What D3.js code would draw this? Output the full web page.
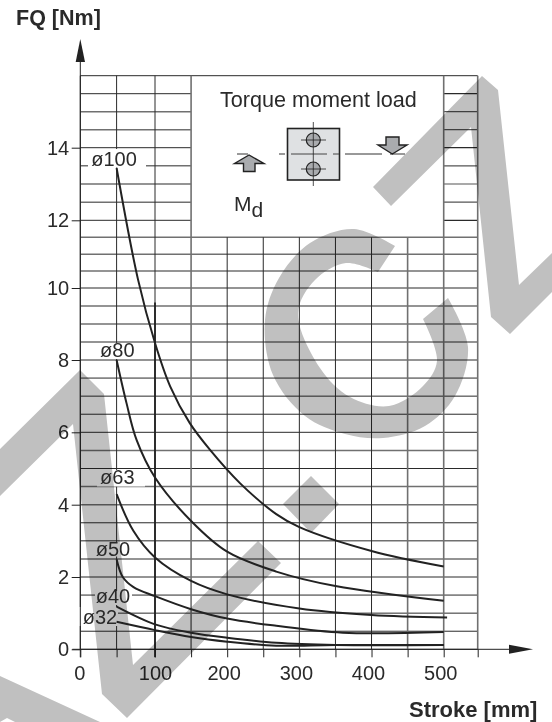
<!DOCTYPE html>
<html>
<head>
<meta charset="utf-8">
<script src="https://cdn.jsdelivr.net/npm/d3@7"></script>
<style>
  html, body { margin: 0; padding: 0; background: #fff; }
  svg { display: block; }
  text { font-family: "Liberation Sans", Arial, sans-serif; fill: #2a2a2a; }
</style>
</head>
<body>
<script>
// values
const xGrid = [0, 50, 100, 150, 200, 250, 300, 350, 400, 450, 500, 550];
const xLabels = [0, 100, 200, 300, 400, 500];
const yLabels = [0, 2, 4, 6, 8, 10, 12, 14];
const yGrid = d3.range(0, 16.5, 0.5);

const names = ["ø100", "ø80", "ø63", "ø50", "ø40", "ø32"];

const d100 = [[50,13.44],[78,10.24],[100,8.47],[121,7.27],[148,6.26],[176,5.52],[218,4.59],[268,3.74],[300,3.38],[400,2.72],[500,2.29]];
const d80 = [[50,8],[63,6.8],[76,5.79],[100,4.75],[150,3.55],[200,2.7],[268,2.15],[350,1.75],[500,1.34]];
const d63 = [[50,4.29],[72,3.27],[100,2.54],[150,1.89],[200,1.52],[300,1.13],[400,0.95],[505,0.88]];
const d50 = [[50,2.49],[58,2],[72,1.72],[100,1.47],[150,1.11],[200,0.85],[268,0.65],[360,0.46],[500,0.48]];
const d40 = [[50,1.18],[100,0.69],[150,0.46],[200,0.32],[268,0.18],[350,0.12],[500,0.12]];
const d32 = [[50,0.76],[100,0.53],[150,0.34],[200,0.21],[268,0.1],[350,0.12],[500,0.12]];
const curves = [d100, d80, d63, d50, d40, d32];

var w = 552;
var h = 722;

// the scan is not quite even, so both scales are calibrated on a few grid lines
var x = d3.scaleLinear().domain([0, 50, 100, 500, 550]).range([80.3, 116.6, 155, 443.7, 477.7]);
var y = d3.scaleLinear()
  .domain([0, 2, 4, 6, 8, 10, 12, 14, 16])
  .range([649.3, 577, 504.7, 432.3, 360, 288, 220.3, 147.7, 75.7]);

var svg = d3.select("body").append("svg").attr("width", w).attr("height", h);

//grid
var grid = svg.append("g");
var darkY = [16, 15.5, 14, 12, 8, 7.5, 7, 6.5, 6, 5, 3.5, 2, 1.5, 1, 0.5, 0];
var greyX = [150, 450, 500, 550];

grid.selectAll(".h").data(yGrid).enter().append("line")
  .attr("x1", x(0)).attr("x2", x(550))
  .attr("y1", function (d) { return y(d); })
  .attr("y2", function (d) { return y(d); })
  .attr("stroke", function (d) { return darkY.includes(d) ? "#2a2a2a" : "#707070"; })
  .attr("stroke-width", function (d) { return darkY.includes(d) ? 1 : 1.5; })
  .each(function (d) {
    // lines above 12 stop at the inset box, and carry on right of it
    if (d >= 12 && d < 16) {
      d3.select(this).attr("x2", x(150));
      grid.append("line")
        .attr("x1", x(500)).attr("x2", x(550))
        .attr("y1", y(d)).attr("y2", y(d))
        .attr("stroke", darkY.includes(d) ? "#2a2a2a" : "#555")
        .attr("stroke-width", 1.2);
    }
  });

grid.selectAll(".v").data(xGrid).enter().append("line")
  .attr("x1", function (d) { return x(d); })
  .attr("x2", function (d) { return x(d); })
  .attr("y1", function (d) { return d >= 200 && d <= 450 ? y(11.5) : y(16); })
  .attr("y2", y(0))
  .attr("stroke", function (d) { return greyX.includes(d) ? "#707070" : "#2a2a2a"; })
  .attr("stroke-width", function (d) { return greyX.includes(d) ? 1.6 : 1; });

// heavier part of the 100 line
grid.append("line")
  .attr("x1", x(100)).attr("x2", x(100))
  .attr("y1", y(9.6)).attr("y2", y(0) + 8)
  .attr("stroke", "#222").attr("stroke-width", 1.8);

//white gaps behind the size labels
var gaps = [[88, 149, 58, 18.5], [98, 343, 38, 16], [97, 470, 48, 16.5], [95, 543, 37, 13.5], [95, 591, 37, 14], [79, 607, 39, 19]];
svg.selectAll(".gap").data(gaps).enter().append("rect")
  .attr("x", function (d) { return d[0]; })
  .attr("y", function (d) { return d[1]; })
  .attr("width", function (d) { return d[2]; })
  .attr("height", function (d) { return d[3]; })
  .attr("fill", "#fff");

//axes
var xAxis = d3.axisBottom(x)
  .tickValues(xGrid)
  .tickSizeOuter(0)
  .tickSize(8)
  .tickPadding(8.5)
  .tickFormat(function (d) { return xLabels.includes(d) ? d : ""; });

var yAxis = d3.axisLeft(y)
  .tickValues(yLabels)
  .tickSizeOuter(0)
  .tickSize(8.6)
  .tickPadding(2.5);

var gx = svg.append("g").attr("transform", "translate(0," + y(0) + ")").call(xAxis);
var gy = svg.append("g").attr("transform", "translate(" + x(0) + ",0)").call(yAxis);

[gx, gy].forEach(function (g) {
  g.select(".domain").remove();
  g.selectAll("line").attr("stroke", "#222");
  g.selectAll("text").attr("font-size", 20).attr("font-family", null).style("fill", "#2a2a2a");
});
gx.selectAll("text").attr("dx", function (d) { return d === 100 ? 0 : d === 0 ? -1 : -3.5; });

svg.append("line").attr("x1", x(0)).attr("x2", x(0)).attr("y1", 60).attr("y2", y(0) + 8)
  .attr("stroke", "#222");
svg.append("line").attr("x1", x(0) - 8).attr("x2", 512).attr("y1", y(0)).attr("y2", y(0))
  .attr("stroke", "#222");
svg.append("path").attr("d", "M80.3,39 L85,62 L75.7,62 Z").attr("fill", "#222");
svg.append("path").attr("d", "M533,649.3 L509,644.8 L509,653.8 Z").attr("fill", "#222");

//watermark sits over the grid and only darkens it
var mark = svg.append("g").attr("fill", "#c0c0c0").style("mix-blend-mode", "multiply");
var polys = [
  "M373,187 L482,76 L498,90 L519,285 L552,253 L552,292 L510,334 L491,317 L471,127 L391,206 Z",
  "M0,449 L80,370 L104,394 L133,665 L258,541 L281,563 L127,718 L102,694 L73,424 L0,496 Z",
  "M311,476 L339,504 L311,533 L283,504 Z",
  "M0,676 L100,722 L15,722 L7,718 L0,722 Z"
];
mark.selectAll("path").data(polys).enter().append("path").attr("d", function (d) { return d; });

var cOuter = [[395,246],[354,229],[310,243],[279,278],[265,320],[273,375],[305,416],[345,434],[383,438],[425,426],[455,396],[468,347],[448,298]];
var cInner = [[423,319],[437,361],[423,386],[389,406],[350,397],[320,368],[298,313],[315,280],[346,263],[378,272]];
var cLine = d3.line().curve(d3.curveCatmullRom);
mark.append("path").attr("d", cLine(cOuter) + "L" + cLine(cInner).slice(1) + "Z");

//curves
var line = d3.line()
  .x(function (d) { return x(d[0]); })
  .y(function (d) { return y(d[1]); })
  .curve(d3.curveCatmullRom.alpha(0.5));

svg.selectAll(".curve").data(curves).enter().append("path")
  .attr("d", line)
  .attr("fill", "none")
  .attr("stroke", "#222")
  .attr("stroke-width", 2);

//size labels
var spots = [[114, 165.7], [117.3, 356.7], [117.3, 484.3], [113, 556], [113, 603.3], [100, 624.3]];
svg.selectAll(".size").data(names).enter().append("text")
  .attr("x", function (d, i) { return spots[i][0]; })
  .attr("y", function (d, i) { return spots[i][1]; })
  .attr("text-anchor", "middle")
  .attr("font-size", 20)
  .text(function (d) { return d; });

//axis titles
svg.append("text").attr("x", 16).attr("y", 25).attr("font-size", 21.5).attr("font-weight", "bold").text("FQ [Nm]");
svg.append("text").attr("x", 409).attr("y", 717).attr("font-size", 22).attr("font-weight", "bold").text("Stroke [mm]");

//inset
var inset = svg.append("g");
inset.append("text").attr("x", 220).attr("y", 107.3).attr("font-size", 21.6).text("Torque moment load");

var md = inset.append("text").attr("x", 234).attr("y", 210.7).attr("font-size", 21);
md.append("tspan").text("M");
md.append("tspan").attr("dy", 6).attr("font-size", 21).text("d");

[[237, 248], [279, 285], [345, 382], [390, 405]].forEach(function (s) {
  inset.append("line").attr("x1", s[0]).attr("x2", s[1]).attr("y1", 154).attr("y2", 154)
    .attr("stroke", "#333").attr("stroke-width", 1);
});

inset.append("rect").attr("x", 287.5).attr("y", 128.5).attr("width", 52).attr("height", 51.5)
  .attr("fill", "#dfe1e3").attr("stroke", "#222").attr("stroke-width", 1.6);
inset.append("line").attr("x1", 291).attr("x2", 327).attr("y1", 154).attr("y2", 154)
  .attr("stroke", "#444").attr("stroke-width", 1);
inset.append("line").attr("x1", 333).attr("x2", 339).attr("y1", 154).attr("y2", 154)
  .attr("stroke", "#444").attr("stroke-width", 1);

[140, 169].forEach(function (cy) {
  inset.append("circle").attr("cx", 313.3).attr("cy", cy).attr("r", 7)
    .attr("fill", "#a9abae").attr("stroke", "#222").attr("stroke-width", 1.2);
  inset.append("line").attr("x1", 301).attr("x2", 326).attr("y1", cy).attr("y2", cy)
    .attr("stroke", "#222").attr("stroke-width", 0.8);
});
inset.append("line").attr("x1", 313.3).attr("x2", 313.3).attr("y1", 122).attr("y2", 186)
  .attr("stroke", "#222").attr("stroke-width", 0.8);

inset.append("path").attr("d", "M249,155 L234.5,163.5 L243.5,163.5 L243.5,171.5 L255,171.5 L255,163.5 L264,163.5 Z")
  .attr("fill", "#a9abae").attr("stroke", "#222").attr("stroke-width", 1.4);
inset.append("path").attr("d", "M392.3,154 L378,145 L386,145 L386,137 L399,137 L399,145 L407,145 Z")
  .attr("fill", "#a9abae").attr("stroke", "#222").attr("stroke-width", 1.4);
</script>
</body>
</html>
